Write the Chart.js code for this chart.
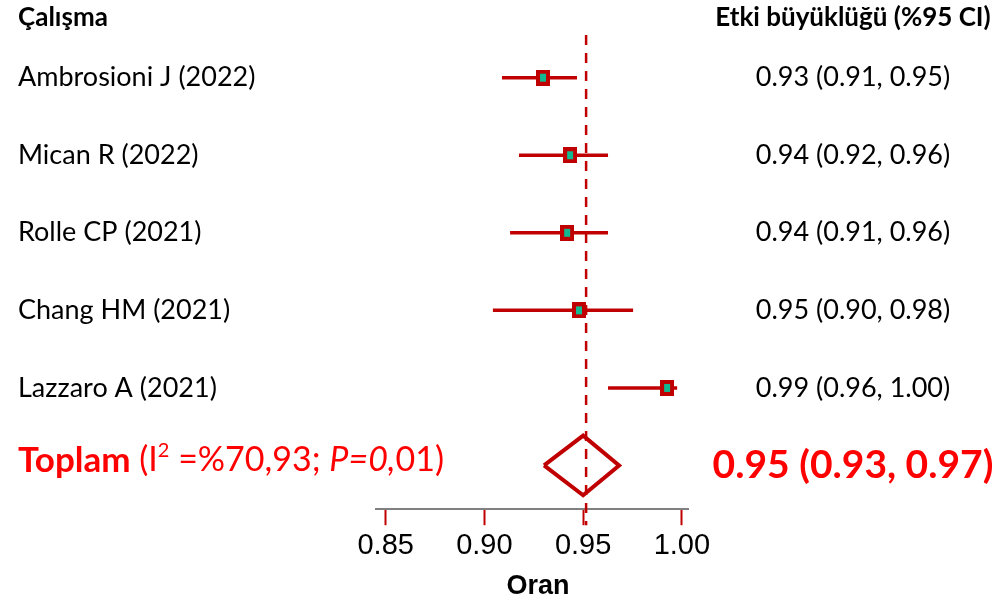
<!DOCTYPE html>
<html>
<head>
<meta charset="utf-8">
<script src="https://cdn.jsdelivr.net/npm/chart.js@4/dist/chart.umd.min.js"></script>
<style>
  html, body { margin: 0; background: #fff; }
  #wrap { width: 1002px; height: 600px; }
</style>
</head>
<body>
<div id="wrap"><canvas id="forest"></canvas></div>
<script>
// Verileri
const studies = ["Ambrosioni J (2022)", "Mican R (2022)", "Rolle CP (2021)", "Chang HM (2021)", "Lazzaro A (2021)"];
const estimates = [0.9297, 0.9434, 0.9419, 0.9479, 0.9925];
const lowerCI = [0.9089, 0.9175, 0.9130, 0.9043, 0.9626];
const upperCI = [0.9469, 0.9626, 0.9626, 0.9753, 0.9976];
const effectLabels = ["0.93 (0.91, 0.95)", "0.94 (0.92, 0.96)", "0.94 (0.91, 0.96)", "0.95 (0.90, 0.98)", "0.99 (0.96, 1.00)"];
const pooled = [0.9302, 0.9500, 0.9682]; // alt, tahmin, üst
const pooledLabel = "0.95 (0.93, 0.97)";
const refValue = 0.9515;
const xTicks = [0.85, 0.90, 0.95, 1.00];
const headers = ["Çalışma", "Etki büyüklüğü (%95 CI)"];
const axisTitle = "Oran";

const RED = "#C00000";
const TEAL = "#12B88F";
const totalRow = studies.length;

// Kare işaretçi (kırmızı kenar, turkuaz iç)
const marker = document.createElement("canvas");
marker.width = 14;
marker.height = 16;
const mctx = marker.getContext("2d");
mctx.fillStyle = RED;
mctx.fillRect(0, 0, 14, 16);
mctx.fillStyle = TEAL;
mctx.fillRect(4, 4, 6, 8);

// Güven aralığı çizgileri
const ciSets = studies.map((s, i) => ({
  type: "line",
  data: [{ x: lowerCI[i], y: i }, { x: upperCI[i], y: i }],
  borderColor: RED,
  borderWidth: 3.5,
  pointRadius: 0,
  order: 3,
}));

const textPlugin = {
  id: "forestText",
  afterDraw(chart) {
    const { ctx, chartArea, scales: { y } } = chart;
    ctx.save();
    ctx.textBaseline = "middle";
    ctx.fillStyle = "#000";

    // başlıklar
    ctx.font = "bold 26px Lato";
    ctx.textAlign = "left";
    ctx.fillText(headers[0], 18, y.getPixelForValue(-0.77));
    ctx.textAlign = "center";
    ctx.fillText(headers[1], 853, y.getPixelForValue(-0.77));

    // çalışmalar
    ctx.font = "27px Lato";
    studies.forEach((s, i) => {
      const py = y.getPixelForValue(i);
      ctx.textAlign = "left";
      ctx.fillText(s, 18, py);
      ctx.textAlign = "center";
      ctx.fillText(effectLabels[i], 853, py);
    });

    // toplam satırı
    const ty = y.getPixelForValue(totalRow) - 5;
    const parts = [
      { t: "Toplam", f: "bold 35px Lato" },
      { t: " (I", f: "34px Lato" },
      { t: "2", f: "20px Lato", up: 10 },
      { t: " =%70,93; ", f: "34px Lato" },
      { t: "P=0,", f: "italic 34px Lato" },
      { t: "01)", f: "34px Lato" },
    ];
    ctx.fillStyle = "#FF0000";
    ctx.textAlign = "left";
    let px = 18;
    parts.forEach((p) => {
      ctx.font = p.f;
      ctx.fillText(p.t, px, ty - (p.up || 0));
      px += ctx.measureText(p.t).width;
    });
    ctx.font = "bold 39px Lato";
    ctx.textAlign = "center";
    ctx.fillText(pooledLabel, 853, y.getPixelForValue(totalRow));

    // eksen başlığı
    ctx.fillStyle = "#000";
    ctx.font = "bold 27px 'Liberation Sans'";
    ctx.fillText(axisTitle, (chartArea.left + chartArea.right) / 2 + 6, 587);
    ctx.restore();
  },
};

new Chart(document.getElementById("forest"), {
  type: "scatter",
  data: {
    datasets: [
      {
        data: estimates.map((v, i) => ({ x: v, y: i })),
        pointStyle: marker,
        order: 0,
      },
      {
        type: "line",
        data: [{ x: refValue, y: -0.55 }, { x: refValue, y: 5.77 }],
        borderColor: RED,
        borderWidth: 2.5,
        borderDash: [10, 8],
        pointRadius: 0,
        clip: false,
        order: 1,
      },
      {
        type: "line",
        data: [
          { x: pooled[0], y: totalRow },
          { x: pooled[1], y: totalRow - 0.385 },
          { x: pooled[2], y: totalRow },
          { x: pooled[1], y: totalRow + 0.385 },
          { x: pooled[0], y: totalRow },
        ],
        borderColor: RED,
        borderWidth: 4,
        borderJoinStyle: "miter",
        pointRadius: 0,
        fill: false,
        order: 2,
      },
      ...ciSets,
    ],
  },
  options: {
    responsive: true,
    maintainAspectRatio: false,
    animation: false,
    layout: { padding: { left: 376, right: 314, top: 35, bottom: 34 } },
    plugins: { legend: { display: false }, tooltip: { enabled: false } },
    scales: {
      x: {
        type: "linear",
        min: 0.8451,
        max: 1.0031,
        afterBuildTicks: (axis) => {
          axis.ticks = xTicks.map((v) => ({ value: v }));
        },
        ticks: {
          callback: (v) => Number(v).toFixed(2),
          color: "#000",
          font: { family: "'Liberation Sans'", size: 29 },
          padding: 3,
          maxRotation: 0,
        },
        grid: {
          drawOnChartArea: false,
          drawTicks: true,
          tickLength: 16,
          tickColor: RED,
          tickWidth: 2,
        },
        border: { display: true, color: "#808080", width: 2 },
      },
      y: {
        type: "linear",
        reverse: true,
        min: -0.55,
        max: 5.564,
        display: false,
      },
    },
  },
  plugins: [textPlugin],
});
</script>
</body>
</html>
